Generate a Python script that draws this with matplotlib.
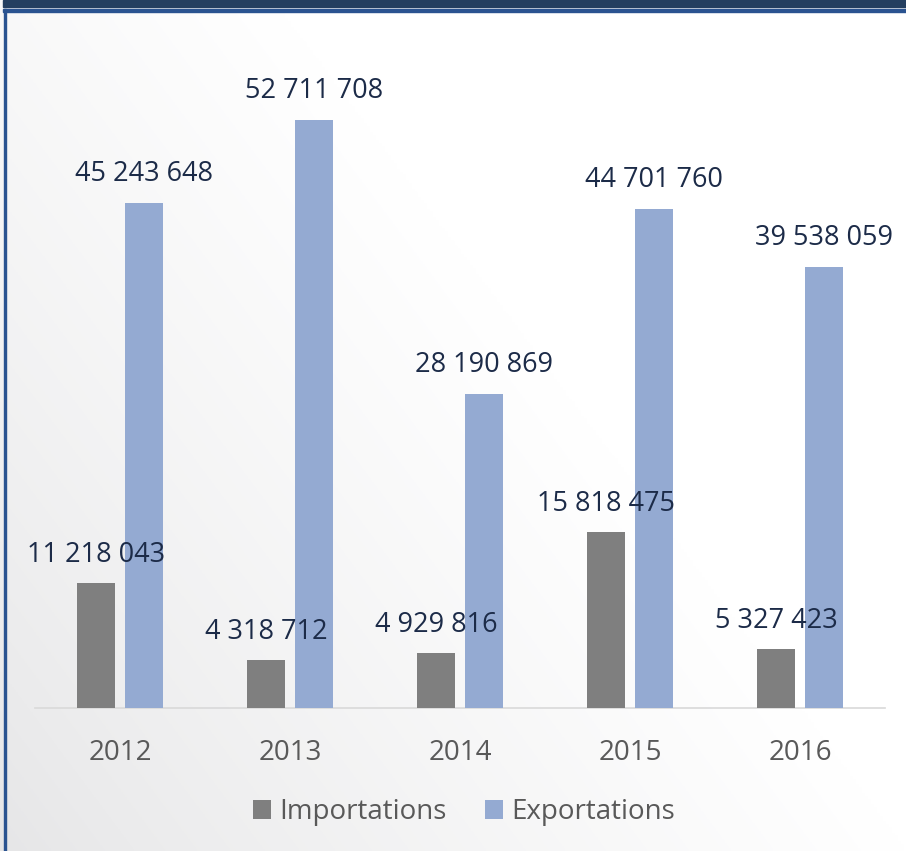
import numpy as np
import matplotlib
matplotlib.use("Agg")
import matplotlib.pyplot as plt
from matplotlib.patches import Rectangle

years = ["2012", "2013", "2014", "2015", "2016"]
importations = [11218043, 4318712, 4929816, 15818475, 5327423]
exportations = [45243648, 52711708, 28190869, 44701760, 39538059]

W, H = 906, 851
fig = plt.figure(figsize=(W / 100, H / 100), dpi=100)

# background gradient
bg = fig.add_axes([0, 0, 1, 1], zorder=-10)
xx, yy = np.meshgrid(np.linspace(0, 1, 300), np.linspace(0, 1, 300))
g = np.clip(1.0 * xx + 0.7 * yy, 0, 1) ** 0.8
c0 = np.array([0.90, 0.90, 0.905])
c1 = np.array([1.0, 1.0, 1.0])
img = c0[None, None, :] * (1 - g[..., None]) + c1[None, None, :] * g[..., None]
bg.imshow(img, origin="lower", extent=[0, 1, 0, 1], aspect="auto")
bg.set_xlim(0, 1); bg.set_ylim(0, 1)
bg.axis("off")

def px(x0, y0, w, h, color):
    fig.patches.append(Rectangle((x0 / W, 1 - (y0 + h) / H), w / W, h / H,
                                 transform=fig.transFigure, color=color, zorder=5))

px(3, 0, W - 3, 7, "#243F60")
px(3, 9, W - 3, 2.5, "#2A5390")
px(3.5, 9, 2.5, H - 9, "#2A5390")

# main axes: x from 35 to 885 px, baseline y=708, top y=61
ax_left, ax_right, ax_bot, ax_top = 35, 885, 708, 61
ax = fig.add_axes([ax_left / W, 1 - ax_bot / H, (ax_right - ax_left) / W, (ax_bot - ax_top) / H])
ax.patch.set_alpha(0)
ymax = 58.0e6
ax.set_xlim(-0.5, 4.5)
ax.set_ylim(0, ymax)

x = np.arange(len(years))
bw = 38 / 170
off = 24 / 170
imp_color = "#7F7F7F"
exp_color = "#94AAD2"
b1 = ax.bar(x - off, importations, bw, color=imp_color, label="Importations", zorder=3)
b2 = ax.bar(x + off, exportations, bw, color=exp_color, label="Exportations", zorder=3)

def fmt(v):
    return f"{v:,}".replace(",", " ")

lab_color = "#1C2B48"
fs = 19.5
for i, v in enumerate(importations):
    ax.annotate(fmt(v), (x[i] - off, v), xytext=(0, 28), textcoords="offset pixels",
                ha="center", va="center", fontsize=fs, color=lab_color, family="Open Sans", zorder=6)
for i, v in enumerate(exportations):
    ax.annotate(fmt(v), (x[i] + off, v), xytext=(0, 29), textcoords="offset pixels",
                ha="center", va="center", fontsize=fs, color=lab_color, family="Open Sans", zorder=6)

for s in ["top", "right", "left"]:
    ax.spines[s].set_visible(False)
ax.spines["bottom"].set_color("#D9D9D9")
ax.spines["bottom"].set_linewidth(1.2)
ax.set_yticks([])
ax.set_xticks(x)
ax.set_xticklabels(years, fontsize=20, color="#595959", family="Open Sans")
ax.tick_params(axis="x", length=0, pad=22)

leg = fig.legend(handles=[b1, b2], labels=["Importations", "Exportations"],
                 loc="center", bbox_to_anchor=(464 / W, 1 - 812 / H), ncol=2, frameon=False,
                 prop={"family": "Open Sans", "size": 20}, handlelength=0.65, handleheight=0.65,
                 handletextpad=0.3, columnspacing=1.35)
for t in leg.get_texts():
    t.set_color("#595959")

fig.savefig("out.png", dpi=100)
